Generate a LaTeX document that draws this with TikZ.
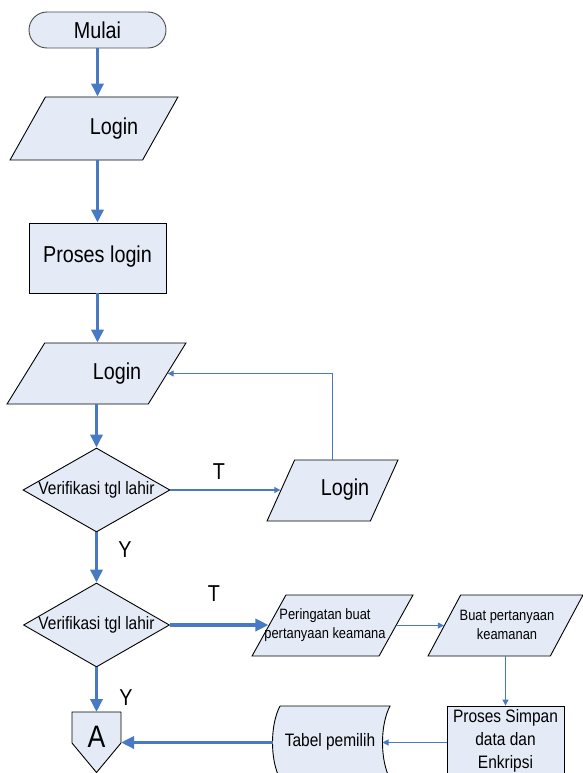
\documentclass[tikz,border=0pt]{standalone}
\usepackage{fontspec}
\setmainfont{Liberation Sans}
\newfontfamily\nar[FakeStretch=0.86]{Liberation Sans}
\usetikzlibrary{shapes.geometric,arrows.meta}
\definecolor{boxfill}{RGB}{229,235,246}
\definecolor{flowblue}{RGB}{71,121,196}
\begin{document}
\begin{tikzpicture}[x=1pt,y=-1pt,
  box/.style={draw=black, line width=0.9pt, fill=boxfill},
  term/.style={box, draw=black!70, rectangle, rounded corners=18pt, minimum width=137pt, minimum height=36pt},
  procbox/.style={box, rectangle, inner sep=2pt},
  para/.style={box, trapezium, trapezium left angle=70, trapezium right angle=110,
    trapezium stretches=true, inner sep=2pt},
  decide/.style={box, diamond, inner sep=2pt},
  big/.style={font=\nar\fontsize{23}{26}\selectfont, inner sep=0pt},
  mid/.style={font=\nar\fontsize{18}{23}\selectfont, inner sep=0pt, align=center},
  small/.style={font=\nar\fontsize{15}{19}\selectfont, inner sep=0pt, align=center},
  thickflow/.style={draw=flowblue, line width=3.5pt, -{Triangle[length=13pt,width=12pt]}},
  thinflow/.style={draw=flowblue, line width=1.1pt, -{Triangle[length=6pt,width=6pt]}}]
\useasboundingbox (0,0) rectangle (583,773);
\clip (0,0) rectangle (583,773);

% main column
\node[term, big] (mulai) at (97.5,30) {Mulai};
\node[para, minimum width=168pt, minimum height=63pt] (login1) at (94,128.5) {};
\node[big] (login1t) at (114,129) {Login};
\node[procbox, minimum width=137pt, minimum height=70pt] (proses) at (97.5,258) {};
\node[big] (prosest) at (97.5,257) {Proses login};
\node[para, minimum width=179pt, minimum height=61pt] (login2) at (96.5,373.5) {};
\node[big] (login2t) at (117,374) {Login};
\node[decide, minimum width=147pt, minimum height=84pt] (d1) at (96.5,490) {};
\node[mid] (d1t) at (96.5,490) {Verifikasi tgl lahir};
\node[para, minimum width=131pt, minimum height=61pt] (login3) at (332.5,490.5) {};
\node[big] (login3t) at (345,490) {Login};
\node[decide, minimum width=146pt, minimum height=84pt] (d2) at (96.5,625) {};
\node[mid] (d2t) at (96.5,625) {Verifikasi tgl lahir};

% right branch
\node[para, minimum width=161pt, minimum height=61pt] (warn) at (332.5,625.5) {};
\node[small] (warnt) at (325,625) {Peringatan buat\\pertanyaan keamana};
\node[para, minimum width=155pt, minimum height=61pt] (quest) at (505.5,625.5) {};
\node[small] (questt) at (507,625) {Buat pertanyaan\\keamanan};
\node[procbox, minimum width=117pt, minimum height=78pt] (store) at (505.5,745) {};
\node[mid] (storet) at (505.5,741) {Proses Simpan\\data dan\\Enkripsi};

% stored data shape
\draw[box] (280,706) -- (390,706) .. controls (380,725) and (380,760) .. (390,779)
  -- (280,779) .. controls (270,760) and (270,725) .. (280,706);
\coordinate (tabW) at (272.5,742.5);
\coordinate (tabE) at (382.5,742.5);
\node[mid] (tabt) at (330,742) {Tabel pemilih};

% off-page connector
\draw[box] (72,712) -- (121,712) -- (121,743) -- (96.5,772.5) -- (72,743) -- cycle;
\coordinate (Atop) at (96.5,712);
\coordinate (Aeast) at (121,742.5);
\node[font=\nar\fontsize{31}{33}\selectfont, inner sep=0pt] (At) at (96.5,737) {A};

% connectors
\draw[thickflow] (mulai.south) -- (mulai.south |- login1.north);
\draw[thickflow] (proses.north |- login1.south) -- (proses.north);
\draw[thickflow] (proses.south) -- (proses.south |- login2.north);
\draw[thickflow] (d1.north |- login2.south) -- (d1.north);
\draw[thinflow] (d1.east) -- (d1.east -| login3.west);
\draw[thinflow] (login3.north) |- (login2.east);
\draw[thickflow] (d1.south) -- (d2.north);
\draw[thickflow] (d2.east) -- (d2.east -| warn.west);
\draw[thinflow] (warn.east) -- (quest.west);
\draw[thinflow] (quest.south) -- (store.north);
\draw[thinflow] (store.west |- tabE) -- (tabE);
\draw[thickflow] (tabW) -- (Aeast);
\draw[thickflow] (d2.south) -- (Atop);

% branch labels
\node[big] (t1) at (219,472) {T};
\node[big] (y1) at (125,550) {Y};
\node[big] (t2) at (214,594) {T};
\node[big] (y2) at (126,698) {Y};
\end{tikzpicture}
\end{document}
